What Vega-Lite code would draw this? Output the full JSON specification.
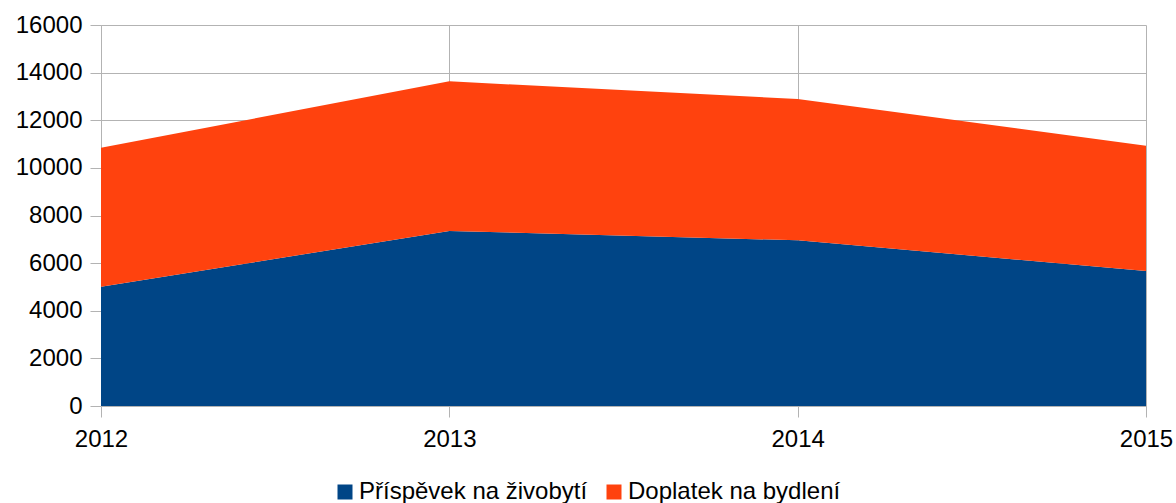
{
  "$schema": "https://vega.github.io/schema/vega-lite/v6.json",
  "width": 1045,
  "height": 381,
  "autosize": {"type": "none"},
  "padding": {"left": 101, "top": 25, "right": 30, "bottom": 97},
  "background": "white",
  "config": {
    "view": {"stroke": null},
    "font": "Liberation Sans",
    "axis": {"labelFont": "Liberation Sans", "labelFontSize": 24, "labelColor": "#000000", "gridColor": "#b3b3b3", "tickColor": "#b3b3b3", "domainColor": "#b3b3b3", "gridWidth": 1, "tickWidth": 1, "domainWidth": 1}
  },
  "data": {
    "values": [
      {"rok": 2012, "druh": "Příspěvek na živobytí", "poradi": 1, "castka": 5011},
      {"rok": 2013, "druh": "Příspěvek na živobytí", "poradi": 1, "castka": 7349},
      {"rok": 2014, "druh": "Příspěvek na živobytí", "poradi": 1, "castka": 6958},
      {"rok": 2015, "druh": "Příspěvek na živobytí", "poradi": 1, "castka": 5669},
      {"rok": 2012, "druh": "Doplatek na bydlení", "poradi": 2, "castka": 5836},
      {"rok": 2013, "druh": "Doplatek na bydlení", "poradi": 2, "castka": 6285},
      {"rok": 2014, "druh": "Doplatek na bydlení", "poradi": 2, "castka": 5934},
      {"rok": 2015, "druh": "Doplatek na bydlení", "poradi": 2, "castka": 5265}
    ]
  },
  "mark": {"type": "area", "opacity": 1},
  "encoding": {
    "x": {
      "field": "rok", "type": "quantitative",
      "scale": {"domain": [2012, 2015], "nice": false, "zero": false},
      "axis": {"title": null, "values": [2012, 2013, 2014, 2015], "format": "d", "grid": true, "tickSize": 11, "labelPadding": 10, "labelFlush": false, "labelOverlap": false}
    },
    "y": {
      "field": "castka", "type": "quantitative", "stack": "zero",
      "scale": {"domain": [0, 16000], "nice": false},
      "axis": {"title": null, "values": [0, 2000, 4000, 6000, 8000, 10000, 12000, 14000, 16000], "format": "d", "grid": true, "tickSize": 11, "labelPadding": 8, "domain": true}
    },
    "color": {
      "field": "druh", "type": "nominal",
      "scale": {"domain": ["Příspěvek na živobytí", "Doplatek na bydlení"], "range": ["#004586", "#ff420e"]},
      "legend": {"title": null, "orient": "none", "legendX": 232, "legendY": 455, "direction": "horizontal", "symbolType": "square", "symbolSize": 225, "symbolStrokeWidth": 0, "labelFontSize": 24, "labelFont": "Liberation Sans", "labelColor": "#000000", "labelOffset": 2, "columnPadding": 14, "labelLimit": 400}
    },
    "order": {"field": "poradi", "type": "quantitative"}
  }
}
